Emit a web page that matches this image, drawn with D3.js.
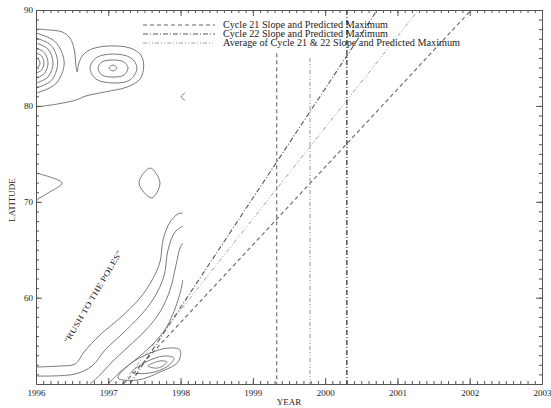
<!DOCTYPE html>
<html>
<head>
<meta charset="utf-8">
<script src="https://cdn.jsdelivr.net/npm/d3@7"></script>
<style>
body { margin: 0; background: #fff; }
svg text { font-family: "Liberation Serif", "DejaVu Serif", serif; fill: #222; }
</style>
</head>
<body>
<div id="chart"></div>
<script>
var years = [1996, 1997, 1998, 1999, 2000, 2001, 2002, 2003];
var latTicks = [60, 70, 80, 90];
var yearDomain = [1996, 2003];
var latDomain = [51, 90];

// slope lines [year, lat]
var cycle21Slope = [[1997.21, 51], [2002.02, 90]];
var cycle22Slope = [[1997.30, 51], [2000.72, 90]];
var averageSlope = [[1997.19, 51], [2001.29, 90]];

// predicted maxima: year, top latitude of the line
var predictedMaxYears = [1999.33, 1999.79, 2000.30];
var predictedMaxTop = [85.5, 85.0, 90];

var legendLabels = [
	"Cycle 21 Slope and Predicted Maximum",
	"Cycle 22 Slope and Predicted Maximum",
	"Average of Cycle 21 & 22 Slope and Predicted Maximum"
];

// contour lines, [year, lat]
var contourOpen = [
	[[1996.00,88.02],[1996.19,87.91],[1996.36,87.71],[1996.47,87.08],[1996.53,85.83],[1996.55,84.37],[1996.57,83.53],[1996.59,84.37],[1996.65,85.31],[1996.77,85.93],[1997.02,86.25],[1997.30,86.04],[1997.45,85.31],[1997.49,84.16],[1997.44,82.80],[1997.26,81.97],[1996.95,81.45],[1996.69,81.03],[1996.55,80.61],[1996.30,80.20],[1996.00,79.88]],
	[[1996,87.60],[1996.27,86.66],[1996.39,84.47],[1996.27,82.28],[1996,81.34]],
	[[1996,87.08],[1996.21,86.30],[1996.30,84.47],[1996.21,82.64],[1996,81.86]],
	[[1996,86.56],[1996.165,85.93],[1996.235,84.47],[1996.165,83.01],[1996,82.38]],
	[[1996,86.03],[1996.116,85.56],[1996.166,84.47],[1996.116,83.38],[1996,82.91]],
	[[1996,85.51],[1996.078,85.20],[1996.111,84.47],[1996.078,83.74],[1996,83.43]],
	[[1996,84.99],[1996.039,84.83],[1996.055,84.47],[1996.039,84.11],[1996,83.95]],
	[[1998.06,81.34],[1998.006,80.93],[1998.06,80.61]],
	[[1996,73.0],[1996.19,72.59],[1996.36,71.96],[1996.19,71.02],[1996,70.19]],
	[[1996.00,52.77],[1996.33,52.88],[1996.54,53.08],[1996.664,54.34],[1996.885,56.11],[1997.162,57.88],[1997.439,59.97],[1997.605,61.84],[1997.715,63.72],[1997.757,66.02],[1997.854,67.89],[1997.964,68.73],[1998.03,68.83]],
	[[1996.00,51.83],[1996.54,52.04],[1996.775,52.88],[1996.955,54.54],[1997.19,56.21],[1997.439,58.09],[1997.632,59.97],[1997.771,62.26],[1997.826,64.97],[1997.923,66.85],[1998.03,67.47]],
	[[1996.747,51.0],[1996.885,51.94],[1997.051,53.29],[1997.273,54.86],[1997.52,56.63],[1997.715,58.51],[1997.854,60.80],[1997.937,63.41],[1997.992,65.18],[1998.03,65.70]],
	[[1996.996,51.0],[1997.162,52.25],[1997.37,53.50],[1997.605,55.07],[1997.798,56.84],[1997.937,59.13],[1998.02,61.32],[1998.03,61.84]]
];
var contourClosed = [
	[[1997.065,85.41],[1997.314,85.0],[1997.397,83.95],[1997.30,82.70],[1997.065,82.39],[1996.83,82.80],[1996.747,83.95],[1996.83,85.0]],
	[[1997.065,84.79],[1997.217,84.58],[1997.273,83.95],[1997.217,83.22],[1997.065,83.01],[1996.913,83.22],[1996.858,83.95],[1996.913,84.58]],
	[[1997.065,84.26],[1997.12,83.95],[1997.065,83.64],[1997.01,83.95]],
	[[1997.58,73.52],[1997.715,71.96],[1997.60,70.40],[1997.425,71.96]],
	[[1997.134,51.62],[1997.30,53.08],[1997.549,54.13],[1997.826,54.75],[1997.992,54.54],[1997.964,53.29],[1997.715,52.25],[1997.411,51.42]],
	[[1997.328,52.25],[1997.52,53.29],[1997.771,53.92],[1997.909,53.71],[1997.826,52.88],[1997.577,52.15]],
	[[1997.549,52.88],[1997.715,53.40],[1997.812,53.29],[1997.688,52.67]]
];

var width = 551, height = 408;
var plot = {left: 36, right: 542, top: 10, bottom: 384};
var axisColor = "#555";
var contourColor = "#7a7a7a";

var x = d3.scaleLinear().domain(yearDomain).range([plot.left, plot.right]);
var y = d3.scaleLinear().domain(latDomain).range([plot.bottom, plot.top]);

var svg = d3.select("#chart")
	.append("svg")
	.attr("width", width)
	.attr("height", height);

var line = d3.line()
	.x(function(d) { return x(d[0]); })
	.y(function(d) { return y(d[1]); });

var styles = [
	{dash: "4,3", color: "#666", width: 1.1},          // cycle 21
	{dash: "5,2,1,2", color: "#555", width: 1.1},      // cycle 22
	{dash: "4,2,1,2,1,2", color: "#a0a0a0", width: 1}  // average
];

// contours
svg.append("g").selectAll("path.copen")
	.data(contourOpen)
	.enter().append("path")
	.attr("class", "copen")
	.attr("d", function(d) { return line.curve(d3.curveCatmullRom)(d); })
	.attr("fill", "none")
	.attr("stroke", contourColor)
	.attr("stroke-width", 1);

svg.append("g").selectAll("path.cclosed")
	.data(contourClosed)
	.enter().append("path")
	.attr("class", "cclosed")
	.attr("d", function(d) { return line.curve(d3.curveCatmullRomClosed)(d); })
	.attr("fill", "none")
	.attr("stroke", contourColor)
	.attr("stroke-width", 1);

line.curve(d3.curveLinear);

// slope lines: cycle 21 dashed, cycle 22 dash-dot, average light
var slopes = [cycle21Slope, cycle22Slope, averageSlope];
svg.append("g").selectAll("path.slope")
	.data(slopes)
	.enter().append("path")
	.attr("class", "slope")
	.attr("d", function(d) { return line(d); })
	.attr("fill", "none")
	.attr("stroke", function(d, i) { return styles[i].color; })
	.attr("stroke-width", function(d, i) { return styles[i].width; })
	.attr("stroke-dasharray", function(d, i) { return styles[i].dash; });

// predicted maxima
var maxStyle = [styles[0], styles[2], styles[1]];
svg.append("g").selectAll("line.pmax")
	.data(predictedMaxYears)
	.enter().append("line")
	.attr("class", "pmax")
	.attr("x1", function(d) { return x(d); })
	.attr("x2", function(d) { return x(d); })
	.attr("y1", function(d, i) { return y(predictedMaxTop[i]); })
	.attr("y2", y(latDomain[0]))
	.attr("stroke", function(d, i) { return maxStyle[i].color; })
	.attr("stroke-width", function(d, i) { return i == 2 ? 1.5 : 1.1; })
	.attr("stroke-dasharray", function(d, i) { return maxStyle[i].dash; });

// axes
function styleAxis(g) {
	g.selectAll("path.domain").attr("stroke", axisColor);
	g.selectAll(".tick line").attr("stroke", axisColor);
	g.selectAll(".tick text")
		.attr("font-family", "Liberation Serif, serif")
		.attr("font-size", "9px")
		.attr("fill", "#222");
}

var minorYears = d3.range(yearDomain[0], yearDomain[1] + 0.001, 0.1);
var minorLats = d3.range(latDomain[0], latDomain[1] + 0.001, 1);

svg.append("g").attr("transform", "translate(0," + plot.bottom + ")")
	.call(d3.axisBottom(x).tickValues(minorYears).tickSize(-3).tickSizeOuter(0).tickFormat(""))
	.call(styleAxis);
svg.append("g").attr("transform", "translate(0," + plot.bottom + ")")
	.call(d3.axisBottom(x).tickValues(years).tickSize(-6).tickSizeOuter(0).tickPadding(6).tickFormat(d3.format("d")))
	.call(styleAxis);
svg.append("g").attr("transform", "translate(0," + plot.top + ")")
	.call(d3.axisTop(x).tickValues(minorYears).tickSize(-3).tickSizeOuter(0).tickFormat(""))
	.call(styleAxis);
svg.append("g").attr("transform", "translate(0," + plot.top + ")")
	.call(d3.axisTop(x).tickValues(years).tickSize(-6).tickSizeOuter(0).tickFormat(""))
	.call(styleAxis);
svg.append("g").attr("transform", "translate(" + plot.left + ",0)")
	.call(d3.axisLeft(y).tickValues(minorLats).tickSize(-3).tickSizeOuter(0).tickFormat(""))
	.call(styleAxis);
svg.append("g").attr("transform", "translate(" + plot.left + ",0)")
	.call(d3.axisLeft(y).tickValues(latTicks).tickSize(-6).tickSizeOuter(0).tickPadding(3).tickFormat(d3.format("d")))
	.call(styleAxis);
svg.append("g").attr("transform", "translate(" + plot.right + ",0)")
	.call(d3.axisRight(y).tickValues(minorLats).tickSize(-3).tickSizeOuter(0).tickFormat(""))
	.call(styleAxis);
svg.append("g").attr("transform", "translate(" + plot.right + ",0)")
	.call(d3.axisRight(y).tickValues(latTicks).tickSize(-6).tickSizeOuter(0).tickFormat(""))
	.call(styleAxis);

// axis titles
svg.append("text")
	.attr("x", (plot.left + plot.right) / 2)
	.attr("y", 405)
	.attr("text-anchor", "middle")
	.attr("font-size", "9px")
	.text("YEAR");
svg.append("text")
	.attr("transform", "translate(15," + ((plot.top + plot.bottom) / 2 + 3) + ") rotate(-90)")
	.attr("text-anchor", "middle")
	.attr("font-size", "9px")
	.text("LATITUDE");

// rush to the poles
svg.append("text")
	.attr("transform", "translate(" + x(1996.45) + "," + y(55.2) + ") rotate(-59.5)")
	.attr("font-size", "8px")
	.attr("textLength", 106)
	.attr("lengthAdjust", "spacingAndGlyphs")
	.text("\"RUSH TO THE POLES\"");

// legend
var legend = svg.append("g").attr("class", "legend");
legend.selectAll("line")
	.data(legendLabels)
	.enter().append("line")
	.attr("x1", 143).attr("x2", 215)
	.attr("y1", function(d, i) { return 25 + i * 9; })
	.attr("y2", function(d, i) { return 25 + i * 9; })
	.attr("stroke", function(d, i) { return styles[i].color; })
	.attr("stroke-width", 1.1)
	.attr("stroke-dasharray", function(d, i) { return styles[i].dash; });
legend.selectAll("text")
	.data(legendLabels)
	.enter().append("text")
	.attr("x", 223)
	.attr("y", function(d, i) { return 28 + i * 9; })
	.attr("font-size", "9.5px")
	.attr("textLength", function(d, i) { return [165, 165, 237][i]; })
	.attr("lengthAdjust", "spacingAndGlyphs")
	.text(function(d) { return d; });
</script>
</body>
</html>
